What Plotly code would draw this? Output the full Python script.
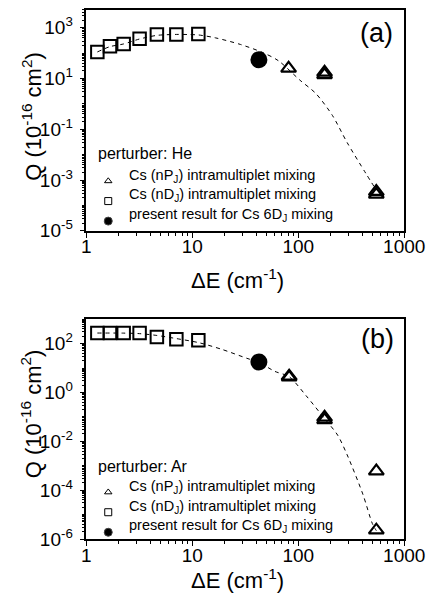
import plotly.graph_objects as go

# ---------------- data ----------------
nD_dE = [1.27, 1.67, 2.25, 3.18, 4.63, 7.07, 11.4]
He_nD_Q = [111, 185, 230, 370, 537, 537, 565]
Ar_nD_Q = [269, 269, 269, 269, 186, 149, 136]

He_nP_dE = [81, 177, 177, 545, 545]
He_nP_Q = [25, 17.5, 14, 3.5e-4, 2.7e-4]
Ar_nP_dE = [82, 82, 177, 177, 545, 545]
Ar_nP_Q = [4.6, 4.2, 0.095, 0.075, 6e-4, 2.3e-6]

D6_dE = [42.5]
He_D6_Q = [55]
Ar_D6_Q = [17.5]

He_fit_dE = [1.27, 1.67, 2.25, 3.18, 4.63, 7.07, 9, 11.4, 16.5, 28.5, 46, 65, 104, 146, 210, 289, 435, 545]
He_fit_Q = [111, 180, 230, 360, 500, 545, 540, 520, 400, 219, 106, 50, 8.5, 2.6, 0.35, 0.03, 1.8e-3, 4e-4]
Ar_fit_dE = [1.27, 2.25, 3.18, 4.63, 7.07, 11.4, 19, 32.7, 42.5, 60, 82, 119, 177, 235, 289, 406, 500, 545]
Ar_fit_Q = [270, 268, 255, 215, 160, 110, 58, 25, 17, 7.3, 4.4, 0.72, 0.085, 0.018, 2.8e-3, 7e-5, 4.3e-6, 2.2e-6]

x_tickvals = [1, 10, 100, 1000]
x_ticktext = ["1", "10", "100", "1000"]
ya_tickvals = [1e-5, 1e-3, 1e-1, 1e1, 1e3]
ya_ticktext = ["10<sup>-5</sup>", "10<sup>-3</sup>", "10<sup>-1</sup>", "10<sup>1</sup>", "10<sup>3</sup>"]
yb_tickvals = [1e-6, 1e-4, 1e-2, 1e0, 1e2]
yb_ticktext = ["10<sup>-6</sup>", "10<sup>-4</sup>", "10<sup>-2</sup>", "10<sup>0</sup>", "10<sup>2</sup>"]

leg_names = ["Cs (nP<sub>J</sub>) intramultiplet mixing",
             "Cs (nD<sub>J</sub>) intramultiplet mixing",
             "present result for Cs 6D<sub>J</sub> mixing"]
leg_titles = ["perturber: He", "perturber: Ar"]

OFF = 8  # page body margin
W, H = 445 - OFF, 612 - 2 * OFF   # keep the page from overflowing the window
FONT = "Liberation Sans, Arial, sans-serif"

def px_x(p):
    return (p - OFF) / W

def px_y(p):
    return 1 - (p - OFF) / H

fig = go.Figure()

def add_panel(xa, ya, leg, fit_x, fit_y, nD_y, nP_x, nP_y, d6_y):
    fig.add_trace(go.Scatter(x=fit_x, y=fit_y, mode="lines", xaxis=xa, yaxis=ya,
                             line=dict(color="black", width=1, dash="4px,4px", shape="spline", smoothing=0.8),
                             showlegend=False, hoverinfo="skip"))
    fig.add_trace(go.Scatter(x=nD_dE, y=nD_y, mode="markers", xaxis=xa, yaxis=ya,
                             marker=dict(symbol="square-open", size=12.5, color="black", line=dict(width=2)),
                             showlegend=False))
    fig.add_trace(go.Scatter(x=nP_x, y=nP_y, mode="markers", xaxis=xa, yaxis=ya,
                             marker=dict(symbol="triangle-up-open", size=13, color="black", line=dict(width=2.2)),
                             showlegend=False))
    fig.add_trace(go.Scatter(x=D6_dE, y=d6_y, mode="markers", xaxis=xa, yaxis=ya,
                             marker=dict(symbol="circle", size=17, color="black"),
                             showlegend=False))
    # legend symbols (no data); texts are placed as annotations
    syms = [("triangle-up-open", 6.5), ("square-open", 7), ("circle", 8)]
    for i, (s, sz) in enumerate(syms):
        fig.add_trace(go.Scatter(x=[None], y=[None], mode="markers", xaxis=xa, yaxis=ya,
                                 marker=dict(symbol=s, size=sz, color="black", line=dict(width=1)),
                                 name=" " * (i + 1), legend=leg, showlegend=True))

add_panel("x", "y", "legend", He_fit_dE, He_fit_Q, He_nD_Q, He_nP_dE, He_nP_Q, He_D6_Q)
add_panel("x2", "y2", "legend2", Ar_fit_dE, Ar_fit_Q, Ar_nD_Q, Ar_nP_dE, Ar_nP_Q, Ar_D6_Q)

xdom = [px_x(86), px_x(424)]

def xaxis_cfg(anchor):
    return dict(type="log", range=[0, 3], domain=xdom, anchor=anchor,
                tickvals=x_tickvals, ticktext=x_ticktext, ticks="outside", ticklen=5, tickwidth=1,
                tickcolor="black", showline=True, linecolor="black", linewidth=1.5, mirror=True,
                showgrid=False, zeroline=False, ticklabelstandoff=-7, ticklabeloverflow="allow",
                tickfont=dict(size=19, color="black", family=FONT),
                minor=dict(ticks="outside", ticklen=3, tickwidth=1, tickcolor="black", dtick="D1", showgrid=False))

def yaxis_cfg(anchor, rng, dom, tv, tt):
    minor_vals = []
    for e in range(int(rng[0]) - 1, int(rng[1]) + 2):
        for m in range(1, 10):
            minor_vals.append(m * 10.0 ** e)
    return dict(type="log", range=rng, domain=dom, anchor=anchor,
                tickvals=tv, ticktext=tt, ticks="outside", ticklen=5, tickwidth=1,
                tickcolor="black", showline=True, linecolor="black", linewidth=1.5, mirror=True,
                showgrid=False, zeroline=False, ticklabelstandoff=3, ticklabeloverflow="allow",
                tickfont=dict(size=19, color="black", family=FONT),
                minor=dict(ticks="outside", ticklen=3, tickwidth=1, tickcolor="black",
                           tickmode="array", tickvals=minor_vals, showgrid=False))

legend_common = dict(bgcolor="rgba(0,0,0,0)", borderwidth=0, xanchor="left", yanchor="top",
                     font=dict(size=13.1, family=FONT, color="black"), tracegroupgap=0,
                     itemsizing="trace")

def ann(text, x, y, size, xanchor="center", angle=0):
    return dict(text=text, x=px_x(x), y=px_y(y), xref="paper", yref="paper", showarrow=False,
                xanchor=xanchor, yanchor="middle", textangle=angle,
                font=dict(size=size, family=FONT, color="black"))

annotations = [
    ann("(a)", 395, 33, 27),
    ann("(b)", 396, 345, 27),
    ann("ΔE (cm<sup>-1</sup>)", 247, 284, 22),
    ann("ΔE (cm<sup>-1</sup>)", 247, 590, 22),
    ann("Q (10<sup>-16</sup> cm<sup>2</sup>)", 28, 118, 22, angle=-90),
    ann("Q (10<sup>-16</sup> cm<sup>2</sup>)", 28, 421, 22, angle=-90),
]
leg_title_y = [156, 475]
leg_item_y = [[179, 199, 219], [496, 516, 536]]
for p in range(2):
    annotations.append(ann(leg_titles[p], 96, leg_title_y[p], 16, xanchor="left"))
    for n, yy in zip(leg_names, leg_item_y[p]):
        annotations.append(ann(n, 129, yy, 14.5, xanchor="left"))

fig.update_layout(
    width=W, height=H, margin=dict(l=0, r=0, t=0, b=0),
    paper_bgcolor="white", plot_bgcolor="white",
    font=dict(family=FONT, color="black"),
    xaxis=xaxis_cfg("y"),
    yaxis=yaxis_cfg("x", [-5, 3.7], [px_y(235), px_y(10)], ya_tickvals, ya_ticktext),
    xaxis2=xaxis_cfg("y2"),
    yaxis2=yaxis_cfg("x2", [-6, 3], [px_y(549), px_y(325)], yb_tickvals, yb_ticktext),
    legend=dict(x=px_x(88), y=px_y(169), **legend_common),
    legend2=dict(x=px_x(88), y=px_y(486), **legend_common),
    annotations=annotations,
)

fig.write_html("out.html")
